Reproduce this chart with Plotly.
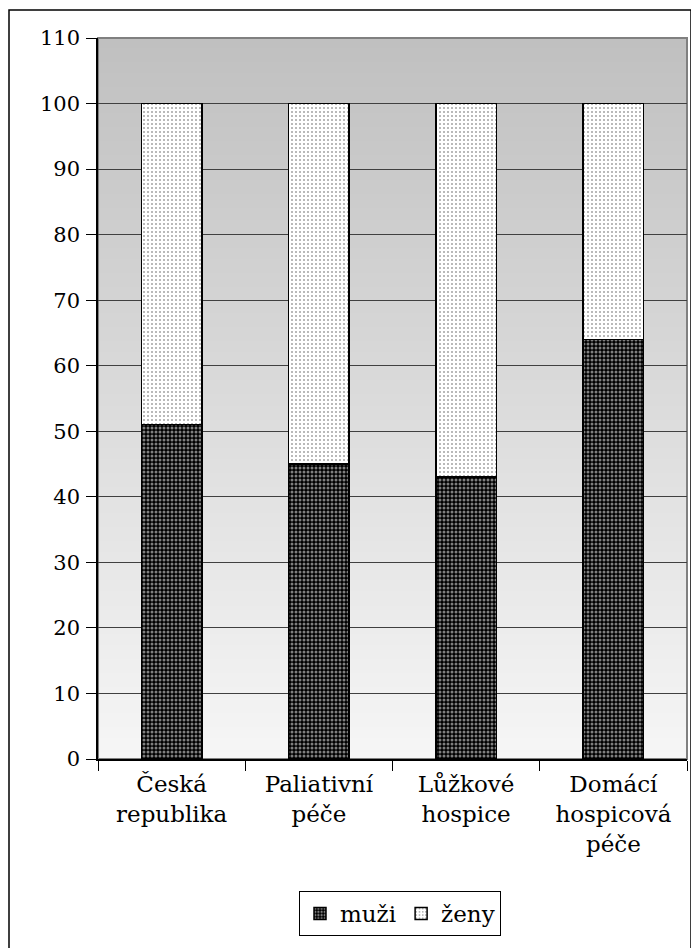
import base64
import struct
import zlib
import plotly.graph_objects as go

categories = ["Česká<br>republika", "Paliativní<br>péče", "Lůžkové<br>hospice", "Domácí<br>hospicová<br>péče"]
muzi = [51, 45, 43, 64]
zeny = [49, 55, 57, 36]
y_ticks = list(range(0, 111, 10))

FONT = "DejaVu Serif"


def gradient_png(top, bottom, h=256):
    rows = b""
    for i in range(h):
        t = i / (h - 1)
        c = round(top + (bottom - top) * t)
        rows += b"\x00" + bytes([c])
    def chunk(tag, data):
        return struct.pack(">I", len(data)) + tag + data + struct.pack(">I", zlib.crc32(tag + data) & 0xffffffff)
    png = b"\x89PNG\r\n\x1a\n"
    png += chunk(b"IHDR", struct.pack(">IIBBBBB", 1, h, 8, 0, 0, 0, 0))
    png += chunk(b"IDAT", zlib.compress(rows))
    png += chunk(b"IEND", b"")
    return "data:image/png;base64," + base64.b64encode(png).decode()


fig = go.Figure()
fig.add_trace(go.Bar(
    name="muži", x=categories, y=muzi,
    marker=dict(color="black", line=dict(color="black", width=1.5),
                pattern=dict(shape=".", fgcolor="white", bgcolor="black", size=4, solidity=0.45)),
))
fig.add_trace(go.Bar(
    name="ženy", x=categories, y=zeny,
    marker=dict(color="white", line=dict(color="black", width=1.5),
                pattern=dict(shape=".", fgcolor="#444444", bgcolor="white", size=4, solidity=0.2)),
))

# figure is offset 8px by the page body margin; margins compensate
L, R, T, B = 90, 12, 30, 189
W, H = 691, 940
pw, ph = W - L - R, H - T - B

shapes = [
    dict(type="rect", xref="x domain", yref="y domain", x0=0, x1=1, y0=0, y1=1,
         line=dict(color="#808080", width=2), fillcolor="rgba(0,0,0,0)", layer="below"),
    dict(type="rect", xref="paper", yref="paper",
         x0=(1 - L) / pw, x1=(683 - L) / pw, y0=(ph - (H + 20 - T)) / ph, y1=(ph - (2 - T)) / ph,
         line=dict(color="black", width=1.5), fillcolor="rgba(0,0,0,0)", layer="below"),
]

fig.update_layout(
    width=W, height=H,
    margin=dict(l=L, r=R, t=T, b=B, autoexpand=False),
    barmode="stack", bargap=0.59,
    paper_bgcolor="white", plot_bgcolor="white",
    font=dict(family=FONT, size=23, color="black"),
    shapes=shapes,
    images=[dict(source=gradient_png(192, 246), xref="paper", yref="paper", x=0, y=1,
                 sizex=1, sizey=1, sizing="stretch", xanchor="left", yanchor="top", layer="below")],
    showlegend=True,
    legend=dict(orientation="h", x=(400 - 8 - L) / pw, xanchor="center",
                y=(ph - (891 - 8 - T)) / ph, yanchor="top", traceorder="normal",
                bordercolor="black", borderwidth=1, bgcolor="white",
                font=dict(family=FONT, size=23, color="black"),
                itemwidth=30, tracegroupgap=0),
    xaxis=dict(showline=True, linecolor="black", linewidth=1.5, ticks="outside", ticklen=10,
               tickcolor="black", tickson="boundaries", showgrid=False, automargin=False,
               tickfont=dict(family=FONT, size=23, color="black"), ticklabelstandoff=4),
    yaxis=dict(range=[0, 110], tickvals=y_ticks, showline=True, linecolor="black", linewidth=1.5,
               ticks="outside", ticklen=10, tickcolor="black", showgrid=True, gridcolor="#404040",
               gridwidth=1, zeroline=False, automargin=False,
               tickfont=dict(family=FONT, size=21, color="black"),
               ticklabelstandoff=2),
)

fig.write_html("out.html")
